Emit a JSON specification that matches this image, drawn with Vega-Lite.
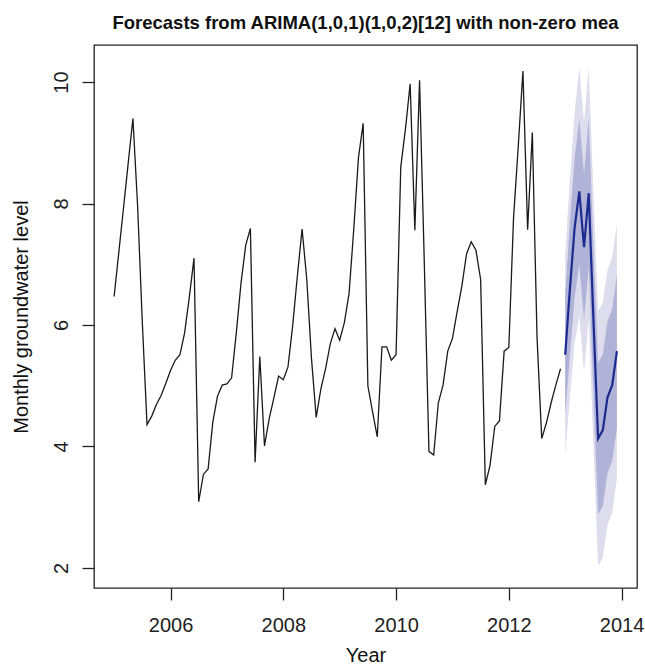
{
  "$schema": "https://vega.github.io/schema/vega-lite/v6.json",
  "width": 543,
  "height": 543,
  "autosize": {"type": "none"},
  "padding": {"left": 94, "top": 45, "right": 8, "bottom": 76},
  "background": "#ffffff",
  "title": {
    "text": "Forecasts from ARIMA(1,0,1)(1,0,2)[12] with non-zero mea",
    "font": "Liberation Sans",
    "fontSize": 18.5,
    "fontWeight": "bold",
    "color": "#111111",
    "anchor": "middle",
    "frame": "group",
    "baseline": "alphabetic",
    "offset": -2
  },
  "config": {
    "view": {"stroke": "#222222", "strokeWidth": 1.3},
    "axis": {
      "domain": false,
      "grid": false,
      "ticks": true,
      "tickColor": "#222222",
      "tickWidth": 1.3,
      "tickSize": 12,
      "labelFont": "Liberation Sans",
      "labelFontSize": 20,
      "labelColor": "#222222",
      "labelPadding": 15,
      "titleFont": "Liberation Sans",
      "titleFontSize": 20,
      "titleFontWeight": "normal",
      "titleColor": "#111111"
    }
  },
  "datasets": {
    "hist": [
      {"t": 2005.0, "v": 6.47}, {"t": 2005.0833, "v": 7.2}, {"t": 2005.1667, "v": 7.93}, {"t": 2005.25, "v": 8.67},
      {"t": 2005.3333, "v": 9.4}, {"t": 2005.4167, "v": 7.95}, {"t": 2005.5, "v": 6.04}, {"t": 2005.5833, "v": 4.36},
      {"t": 2005.6667, "v": 4.5}, {"t": 2005.75, "v": 4.69}, {"t": 2005.8333, "v": 4.84}, {"t": 2005.9167, "v": 5.04},
      {"t": 2006.0, "v": 5.25}, {"t": 2006.0833, "v": 5.42}, {"t": 2006.1667, "v": 5.51}, {"t": 2006.25, "v": 5.87},
      {"t": 2006.3333, "v": 6.46}, {"t": 2006.4167, "v": 7.1}, {"t": 2006.5, "v": 3.09}, {"t": 2006.5833, "v": 3.54},
      {"t": 2006.6667, "v": 3.63}, {"t": 2006.75, "v": 4.4}, {"t": 2006.8333, "v": 4.83}, {"t": 2006.9167, "v": 5.01},
      {"t": 2007.0, "v": 5.03}, {"t": 2007.0833, "v": 5.13}, {"t": 2007.1667, "v": 5.87}, {"t": 2007.25, "v": 6.69},
      {"t": 2007.3333, "v": 7.31}, {"t": 2007.4167, "v": 7.59}, {"t": 2007.5, "v": 3.74}, {"t": 2007.5833, "v": 5.48},
      {"t": 2007.6667, "v": 4.01}, {"t": 2007.75, "v": 4.46}, {"t": 2007.8333, "v": 4.8}, {"t": 2007.9167, "v": 5.16},
      {"t": 2008.0, "v": 5.1}, {"t": 2008.0833, "v": 5.31}, {"t": 2008.1667, "v": 5.99}, {"t": 2008.25, "v": 6.81},
      {"t": 2008.3333, "v": 7.58}, {"t": 2008.4167, "v": 6.75}, {"t": 2008.5, "v": 5.45}, {"t": 2008.5833, "v": 4.48},
      {"t": 2008.6667, "v": 4.95}, {"t": 2008.75, "v": 5.28}, {"t": 2008.8333, "v": 5.69}, {"t": 2008.9167, "v": 5.94},
      {"t": 2009.0, "v": 5.75}, {"t": 2009.0833, "v": 6.04}, {"t": 2009.1667, "v": 6.52}, {"t": 2009.25, "v": 7.58},
      {"t": 2009.3333, "v": 8.76}, {"t": 2009.4167, "v": 9.32}, {"t": 2009.5, "v": 5.0}, {"t": 2009.5833, "v": 4.57},
      {"t": 2009.6667, "v": 4.16}, {"t": 2009.75, "v": 5.64}, {"t": 2009.8333, "v": 5.64}, {"t": 2009.9167, "v": 5.42},
      {"t": 2010.0, "v": 5.51}, {"t": 2010.0833, "v": 8.6}, {"t": 2010.1667, "v": 9.23}, {"t": 2010.25, "v": 9.97},
      {"t": 2010.3333, "v": 7.56}, {"t": 2010.4167, "v": 10.03}, {"t": 2010.5, "v": 7.05}, {"t": 2010.5833, "v": 3.92},
      {"t": 2010.6667, "v": 3.86}, {"t": 2010.75, "v": 4.72}, {"t": 2010.8333, "v": 5.01}, {"t": 2010.9167, "v": 5.57},
      {"t": 2011.0, "v": 5.78}, {"t": 2011.0833, "v": 6.22}, {"t": 2011.1667, "v": 6.64}, {"t": 2011.25, "v": 7.17},
      {"t": 2011.3333, "v": 7.37}, {"t": 2011.4167, "v": 7.23}, {"t": 2011.5, "v": 6.75}, {"t": 2011.5833, "v": 3.37},
      {"t": 2011.6667, "v": 3.69}, {"t": 2011.75, "v": 4.33}, {"t": 2011.8333, "v": 4.42}, {"t": 2011.9167, "v": 5.57},
      {"t": 2012.0, "v": 5.63}, {"t": 2012.0833, "v": 7.76}, {"t": 2012.1667, "v": 8.94}, {"t": 2012.25, "v": 10.18},
      {"t": 2012.3333, "v": 7.57}, {"t": 2012.4167, "v": 9.17}, {"t": 2012.5, "v": 5.8}, {"t": 2012.5833, "v": 4.13},
      {"t": 2012.6667, "v": 4.39}, {"t": 2012.75, "v": 4.72}, {"t": 2012.8333, "v": 5.01}, {"t": 2012.9167, "v": 5.28}
    ],
    "fc": [
      {"t": 2013.0, "mean": 5.51, "lo80": 4.51, "hi80": 6.51, "lo95": 3.86, "hi95": 7.16},
      {"t": 2013.0833, "mean": 6.6, "lo80": 5.5, "hi80": 7.7, "lo95": 4.8, "hi95": 8.4},
      {"t": 2013.1667, "mean": 7.6, "lo80": 6.45, "hi80": 8.75, "lo95": 5.7, "hi95": 9.5},
      {"t": 2013.25, "mean": 8.2, "lo80": 7.0, "hi80": 9.4, "lo95": 6.15, "hi95": 10.25},
      {"t": 2013.3333, "mean": 7.28, "lo80": 6.08, "hi80": 8.48, "lo95": 5.23, "hi95": 9.33},
      {"t": 2013.4167, "mean": 8.17, "lo80": 6.95, "hi80": 9.39, "lo95": 6.09, "hi95": 10.25},
      {"t": 2013.5, "mean": 6.1, "lo80": 4.88, "hi80": 7.32, "lo95": 4.02, "hi95": 8.18},
      {"t": 2013.5833, "mean": 4.13, "lo80": 2.88, "hi80": 5.38, "lo95": 2.03, "hi95": 6.23},
      {"t": 2013.6667, "mean": 4.27, "lo80": 3.02, "hi80": 5.52, "lo95": 2.17, "hi95": 6.37},
      {"t": 2013.75, "mean": 4.81, "lo80": 3.56, "hi80": 6.06, "lo95": 2.71, "hi95": 6.91},
      {"t": 2013.8333, "mean": 5.01, "lo80": 3.76, "hi80": 6.26, "lo95": 2.91, "hi95": 7.11},
      {"t": 2013.9167, "mean": 5.57, "lo80": 4.3, "hi80": 6.84, "lo95": 3.47, "hi95": 7.67}
    ]
  },
  "encoding": {
    "x": {
      "field": "t",
      "type": "quantitative",
      "scale": {"domain": [2004.643, 2014.273], "nice": false, "zero": false},
      "axis": {
        "title": "Year",
        "values": [2006, 2008, 2010, 2012, 2014],
        "format": "d",
        "labelBaseline": "top",
        "titleBaseline": "alphabetic",
        "titleY": 73
      }
    }
  },
  "layer": [
    {
      "data": {"name": "fc"},
      "mark": {"type": "area", "color": "#dddded", "opacity": 1, "clip": true},
      "encoding": {
        "y": {"field": "lo95", "type": "quantitative"},
        "y2": {"field": "hi95"}
      }
    },
    {
      "data": {"name": "fc"},
      "mark": {"type": "area", "color": "#b0b2d7", "opacity": 1, "clip": true},
      "encoding": {
        "y": {"field": "lo80", "type": "quantitative"},
        "y2": {"field": "hi80"}
      }
    },
    {
      "data": {"name": "hist"},
      "mark": {"type": "line", "color": "#1a1a1a", "strokeWidth": 1.3, "clip": true},
      "encoding": {
        "y": {
          "field": "v",
          "type": "quantitative",
          "scale": {"domain": [1.67, 10.61], "nice": false, "zero": false},
          "axis": {
            "title": "Monthly groundwater level",
            "values": [2, 4, 6, 8, 10],
            "format": "d",
            "labelAngle": -90,
            "labelAlign": "center",
            "labelBaseline": "alphabetic",
            "titleAngle": -90,
            "titleBaseline": "middle",
            "titleAlign": "center",
            "titleX": -73
          }
        }
      }
    },
    {
      "data": {"name": "fc"},
      "mark": {"type": "line", "color": "#1b2a8f", "strokeWidth": 2.2, "clip": true},
      "encoding": {
        "y": {"field": "mean", "type": "quantitative"}
      }
    }
  ]
}
